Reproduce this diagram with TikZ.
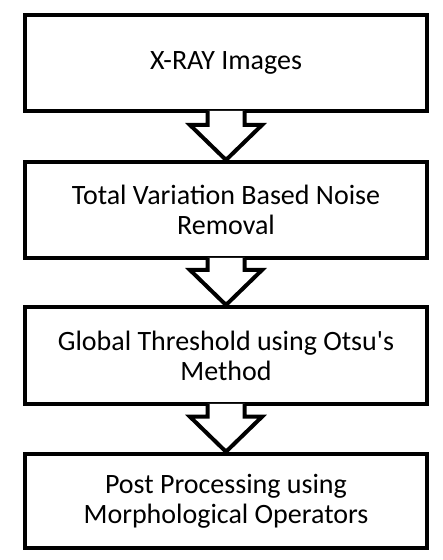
\documentclass[tikz,border=0pt]{standalone}
\usepackage{fontspec}
\setmainfont{Carlito}[Ligatures=TeXOff]
\usetikzlibrary{calc}
\begin{document}
\begin{tikzpicture}[x=1pt,y=1pt,
  stagebox/.style={draw,line width=4pt,minimum width=402pt,align=center,
    font=\fontsize{28}{30}\selectfont,inner sep=0pt},
  blockarrow/.style={draw,fill=white,line width=4pt,line join=miter}]
\useasboundingbox (0,0) rectangle (443,560);
\node[stagebox,minimum height=96pt] (xray) at (226,497) {X-RAY Images};
\node[stagebox,minimum height=96pt] (denoise) at (226,350) {Total Variation Based Noise\\Removal};
\node[stagebox,minimum height=97pt] (otsu) at (226,204.5) {Global Threshold using Otsu's\\Method};
\node[stagebox,minimum height=94pt,line width=4.5pt] (morph) at (226,59) {Post Processing using\\Morphological Operators};
\foreach \a/\b in {xray/denoise,denoise/otsu,otsu/morph}
  \path[blockarrow] ($(\a.south)+(-18.5,2)$) -- ($(\b.north)+(-18.5,35)$) -- ($(\b.north)+(-36,35)$)
    -- (\b.north) -- ($(\b.north)+(36,35)$) -- ($(\b.north)+(18.5,35)$) -- ($(\a.south)+(18.5,2)$);
\end{tikzpicture}
\end{document}
